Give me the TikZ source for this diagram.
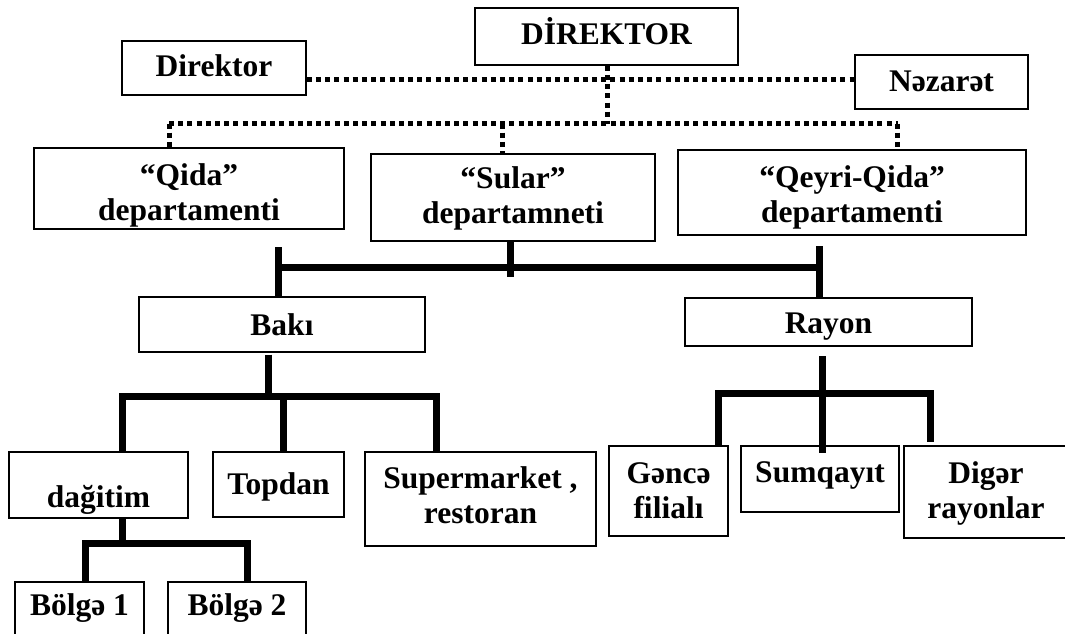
\documentclass[tikz,border=0pt]{standalone}
\usepackage{fontspec}
\setmainfont{Liberation Serif}
\begin{document}
\begin{tikzpicture}[x=1pt,y=-1pt,
  box/.style={draw, line width=1.4pt, inner sep=0pt, rectangle},
  lbl/.style={font=\fontsize{31.5}{35}\selectfont\bfseries, anchor=base, inner sep=0pt, align=center},
  conn/.style={line width=7pt, line join=miter},
  dots/.style={line width=5pt, dash pattern=on 5pt off 4.2pt}]
\useasboundingbox (0,0) rectangle (1065,634);
\clip (0,0) rectangle (1065,634);

% boxes
\node[box, minimum width=263pt, minimum height=57pt] (dir) at (606.5,36.5) {};
\node[box, minimum width=184pt, minimum height=54pt] (direktor) at (214,68) {};
\node[box, minimum width=173pt, minimum height=54pt] (nazaret) at (941.5,82) {};
\node[box, minimum width=310pt, minimum height=81pt] (qida) at (189,188.5) {};
\node[box, minimum width=284pt, minimum height=87pt] (sular) at (513,197.5) {};
\node[box, minimum width=348pt, minimum height=85pt] (qeyri) at (852,192.5) {};
\node[box, minimum width=286pt, minimum height=55pt] (baki) at (282,324.5) {};
\node[box, minimum width=287pt, minimum height=48pt] (rayon) at (828.5,322) {};
\node[box, minimum width=179pt, minimum height=66pt] (dagitim) at (98.5,485) {};
\node[box, minimum width=131pt, minimum height=65pt] (topdan) at (278.5,484.5) {};
\node[box, minimum width=231pt, minimum height=94pt] (super) at (480.5,499) {};
\node[box, minimum width=119pt, minimum height=90pt] (gence) at (668.5,491) {};
\node[box, minimum width=158pt, minimum height=66pt] (sumq) at (820,479) {};
\node[box, minimum width=164pt, minimum height=92pt] (diger) at (986,492) {};
\node[box, minimum width=129pt, minimum height=68pt] (bolge1) at (79.5,616) {};
\node[box, minimum width=138pt, minimum height=68pt] (bolge2) at (237,616) {};

% texts (base anchor = baseline of last line)
\node[lbl] (tdir) at (606.5,45) {DİREKTOR};
\node[lbl] (tdirektor) at (214,77) {Direktor};
\node[lbl] (tnazaret) at (941.5,92) {Nəzarət};
\node[lbl] (tqida) at (189,220) {“Qida”\\departamenti};
\node[lbl] (tsular) at (513,223) {“Sular”\\departamneti};
\node[lbl] (tqeyri) at (852,222) {“Qeyri-Qida”\\departamenti};
\node[lbl] (tbaki) at (282,335) {Bakı};
\node[lbl] (trayon) at (828.5,333) {Rayon};
\node[lbl] (tdagitim) at (98.5,507) {dağitim};
\node[lbl] (ttopdan) at (278.5,494) {Topdan};
\node[lbl] (tsuper) at (480.5,523) {Supermarket ,\\restoran};
\node[lbl] (tgence) at (668.5,518) {Gəncə\\filialı};
\node[lbl] (tsumq) at (820,482) {Sumqayıt};
\node[lbl] (tdiger) at (986,518) {Digər\\rayonlar};
\node[lbl] (tbolge1) at (79.5,615) {Bölgə 1};
\node[lbl] (tbolge2) at (237,615) {Bölgə 2};

% dotted connectors
\coordinate (d1) at (607.5,79.5);
\coordinate (d2) at (607.5,123.5);
\coordinate (dq) at (169,123.5);
\coordinate (ds) at (502,123.5);
\coordinate (dr) at (897.5,123.5);
\draw[dots] (direktor.east |- d1) -- (nazaret.west |- d1);
\draw[dots] (dir.south -| d1) -- (d2);
\draw[dots] (dq) -- (dr);
\draw[dots] (dq) -- (qida.north -| dq);
\draw[dots] (ds) -- (sular.north -| ds);
\draw[dots] (dr) -- (qeyri.north -| dr);

% thick connectors: departments to Baki / Rayon
\coordinate (hlt) at (278.5,247);
\coordinate (hl) at (278.5,267);
\coordinate (hr) at (819.5,267);
\coordinate (hrt) at (819.5,246);
\coordinate (sj) at (510.5,277);
\draw[conn] (hl) -- (hr);
\draw[conn] (hlt) -- (baki.north -| hlt);
\draw[conn] (hrt) -- (rayon.north -| hrt);
\draw[conn] (sular.south -| sj) -- (sj);

% Baki branch
\coordinate (bj) at (268,396.5);
\coordinate (bl) at (122.5,396.5);
\coordinate (bm) at (283,396.5);
\coordinate (br) at (436.5,396.5);
\draw[conn] ([yshift=-2pt]baki.south -| bj) -- (bj);
\draw[conn] (dagitim.north -| bl) -- (bl) -- (br) -- (super.north -| br);
\draw[conn] (bm) -- (topdan.north -| bm);

% dagitim branch
\coordinate (gj) at (122,543);
\coordinate (gl) at (85.5,543);
\coordinate (gr) at (247.5,543);
\draw[conn] (dagitim.south -| gj) -- (gj);
\draw[conn] (bolge1.north -| gl) -- (gl) -- (gr) -- (bolge2.north -| gr);

% Rayon branch
\coordinate (rt) at (822,356);
\coordinate (rb) at (822,453);
\coordinate (rl) at (718.5,393);
\coordinate (rr) at (930,393);
\coordinate (rle) at (718.5,445);
\coordinate (rre) at (930,442);
\draw[conn] (rt) -- (rb);
\draw[conn] (rle) -- (rl) -- (rr) -- (rre);
\end{tikzpicture}
\end{document}
